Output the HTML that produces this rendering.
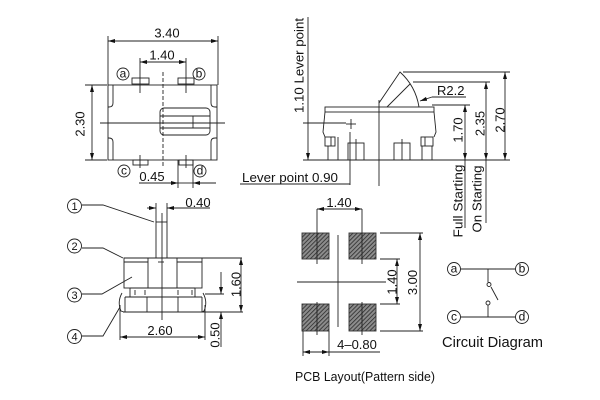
<!DOCTYPE html>
<html><head><meta charset="utf-8"><style>
html,body{margin:0;padding:0;background:#fff;}
svg{display:block;}
text{font-family:"Liberation Sans",Arial,sans-serif;fill:#111;}
</style></head><body>
<svg width="600" height="400" viewBox="0 0 600 400" xmlns="http://www.w3.org/2000/svg">
<defs>
<marker id="ar" viewBox="0 0 7 4" refX="7" refY="2" markerWidth="7" markerHeight="4" markerUnits="userSpaceOnUse" orient="auto-start-reverse"><path d="M0,0 L7,2 L0,4 z" fill="#111"/></marker>
<pattern id="hatch" width="3" height="3" patternUnits="userSpaceOnUse" patternTransform="rotate(45)"><rect width="3" height="3" fill="#8c8c8c"/><line x1="0" y1="0" x2="0" y2="3" stroke="#2a2a2a" stroke-width="1.6"/></pattern>
</defs>
<g fill="none" stroke="#222" stroke-width="0.9">
<!-- ===== TOP VIEW ===== -->
<line x1="108" y1="36" x2="108" y2="85"/>
<line x1="218" y1="36" x2="218" y2="85"/>
<line x1="108" y1="41" x2="218" y2="41" marker-start="url(#ar)" marker-end="url(#ar)"/>
<line x1="140" y1="58" x2="140" y2="93"/>
<line x1="186" y1="58" x2="186" y2="93"/>
<line x1="140" y1="62" x2="186" y2="62" marker-start="url(#ar)" marker-end="url(#ar)"/>
<circle cx="123" cy="74" r="6"/>
<circle cx="199" cy="74" r="6"/>
<circle cx="124" cy="171" r="6"/>
<circle cx="200" cy="171" r="6"/>
<rect x="108" y="85" width="109" height="75"/>
<rect x="132" y="78" width="17" height="6"/>
<rect x="178" y="78" width="16" height="6"/>
<rect x="133" y="160" width="15" height="5"/>
<rect x="179" y="160" width="14" height="5"/>
<line x1="140" y1="155" x2="140" y2="168"/>
<line x1="186" y1="155" x2="186" y2="168"/>
<path d="M113,85 L113,103 Q113,107 109,107 L108,107"/>
<path d="M108,138 L109,138 Q113,138 113,142 L113,160"/>
<path d="M211,85 L211,103 Q211,107 215,107 L217,107"/>
<path d="M217,138 L215,138 Q211,138 211,142 L211,160"/>
<line x1="100" y1="123" x2="225" y2="123"/>
<line x1="163" y1="72" x2="163" y2="168" stroke-dasharray="4,2"/>
<rect x="160" y="108" width="50" height="27" rx="4"/>
<line x1="160" y1="116" x2="210" y2="116"/>
<line x1="160" y1="128" x2="210" y2="128"/>
<line x1="193" y1="116" x2="193" y2="128"/>
<line x1="85" y1="85" x2="107" y2="85"/>
<line x1="85" y1="160" x2="107" y2="160"/>
<line x1="92" y1="85" x2="92" y2="160" marker-start="url(#ar)" marker-end="url(#ar)"/>
<line x1="178" y1="160" x2="178" y2="188"/>
<line x1="193" y1="160" x2="193" y2="188"/>
<line x1="139" y1="183" x2="178" y2="183" marker-end="url(#ar)"/>
<line x1="216" y1="183" x2="193" y2="183" marker-end="url(#ar)"/>
<line x1="178" y1="183" x2="193" y2="183"/>

<!-- ===== SIDE VIEW ===== -->
<line x1="308" y1="17" x2="308" y2="160" marker-end="url(#ar)"/>
<line x1="303" y1="123" x2="346" y2="123"/>
<line x1="346" y1="124" x2="356" y2="124"/>
<line x1="351" y1="119" x2="351" y2="129"/>
<line x1="350" y1="132" x2="350" y2="185"/>
<line x1="240" y1="184" x2="350" y2="184"/>
<rect x="325" y="107" width="109" height="5"/>
<path d="M325,112 L323,132 L325,137"/>
<path d="M434,112 L436,132 L434,137"/>
<rect x="325" y="137" width="10" height="9"/>
<line x1="331" y1="137" x2="331" y2="146"/>
<rect x="421" y="137" width="12" height="9"/>
<line x1="425" y1="137" x2="425" y2="146"/>
<line x1="328" y1="146" x2="328" y2="160"/>
<line x1="338" y1="137" x2="338" y2="160"/>
<line x1="422" y1="146" x2="422" y2="160"/>
<line x1="432" y1="146" x2="432" y2="160"/>
<rect x="348" y="143" width="16" height="17"/>
<line x1="356" y1="139" x2="356" y2="160"/>
<rect x="394" y="143" width="16" height="17"/>
<line x1="402" y1="139" x2="402" y2="160"/>
<line x1="303" y1="160" x2="510" y2="160"/>
<line x1="379" y1="100" x2="379" y2="186"/>
<path d="M379,103 L400,72 A60,60 0 0 1 419,107"/>
<line x1="410" y1="84" x2="387" y2="107"/>
<line x1="403" y1="72" x2="510" y2="72"/>
<line x1="413" y1="82" x2="490" y2="82"/>
<line x1="432" y1="105" x2="470" y2="105"/>
<line x1="432" y1="97" x2="466" y2="97"/>
<line x1="432" y1="97" x2="420" y2="101" marker-end="url(#ar)"/>
<line x1="465" y1="105" x2="465" y2="160" marker-start="url(#ar)" marker-end="url(#ar)"/>
<line x1="465" y1="160" x2="465" y2="228"/>
<line x1="486" y1="82" x2="486" y2="160" marker-start="url(#ar)" marker-end="url(#ar)"/>
<line x1="486" y1="160" x2="486" y2="223"/>
<line x1="505" y1="72" x2="505" y2="160" marker-start="url(#ar)" marker-end="url(#ar)"/>

<!-- ===== FRONT VIEW ===== -->
<circle cx="74.5" cy="206" r="7"/>
<circle cx="74.5" cy="246" r="7"/>
<circle cx="74.5" cy="295" r="7"/>
<circle cx="74.5" cy="336.5" r="7"/>
<polyline points="82,205 103,205 154,222"/>
<polyline points="82,248 103,248 123,258"/>
<polyline points="82,294 102,294 132,277"/>
<polyline points="82,336 103,336 120,307"/>
<rect x="156" y="222" width="11" height="36"/>
<line x1="162" y1="213" x2="162" y2="320"/>
<line x1="156" y1="203" x2="156" y2="222"/>
<line x1="167" y1="203" x2="167" y2="222"/>
<line x1="147" y1="208" x2="156" y2="208" marker-end="url(#ar)"/>
<line x1="210" y1="208" x2="167" y2="208" marker-end="url(#ar)"/>
<line x1="124" y1="258" x2="242" y2="258"/>
<rect x="124" y="258" width="24" height="30"/>
<line x1="124" y1="262" x2="148" y2="262"/>
<rect x="177" y="258" width="25" height="30"/>
<line x1="177" y1="262" x2="202" y2="262"/>
<line x1="158" y1="262" x2="164" y2="262"/>
<line x1="130" y1="288" x2="195" y2="288"/>
<line x1="130" y1="288" x2="130" y2="297"/>
<line x1="195" y1="288" x2="195" y2="297"/>
<line x1="135" y1="290" x2="135" y2="295"/>
<line x1="145" y1="290" x2="145" y2="295"/>
<line x1="178" y1="290" x2="178" y2="295"/>
<line x1="192" y1="290" x2="192" y2="295"/>
<line x1="125" y1="297" x2="202" y2="297"/>
<line x1="147" y1="297" x2="147" y2="312"/>
<line x1="178" y1="297" x2="178" y2="312"/>
<line x1="125" y1="297" x2="125" y2="312"/>
<line x1="202" y1="297" x2="202" y2="312"/>
<line x1="123" y1="312" x2="243" y2="312"/>
<path d="M122,293 Q117,302 121,311 L124,312"/>
<path d="M203,293 Q208,302 204,311 L202,312"/>
<line x1="120" y1="305" x2="120" y2="340"/>
<line x1="205" y1="305" x2="205" y2="340"/>
<line x1="120" y1="337" x2="205" y2="337" marker-start="url(#ar)" marker-end="url(#ar)"/>
<line x1="241" y1="258" x2="241" y2="312" marker-start="url(#ar)" marker-end="url(#ar)"/>
<line x1="205" y1="294" x2="224" y2="294"/>
<line x1="221" y1="272" x2="221" y2="294" marker-end="url(#ar)"/>
<line x1="221" y1="347" x2="221" y2="312" marker-end="url(#ar)"/>

<!-- ===== PCB ===== -->
<rect x="302" y="233" width="27" height="26" fill="url(#hatch)" stroke="#333"/>
<rect x="349" y="233" width="27" height="26" fill="url(#hatch)" stroke="#333"/>
<rect x="302" y="304" width="27" height="27" fill="url(#hatch)" stroke="#333"/>
<rect x="349" y="304" width="27" height="27" fill="url(#hatch)" stroke="#333"/>
<line x1="317" y1="209" x2="317" y2="264"/>
<line x1="362" y1="209" x2="362" y2="264"/>
<line x1="317" y1="302" x2="317" y2="335"/>
<line x1="362" y1="302" x2="362" y2="335"/>
<line x1="317" y1="209" x2="362" y2="209" marker-start="url(#ar)" marker-end="url(#ar)"/>
<line x1="338" y1="235" x2="338" y2="327"/>
<line x1="297" y1="282" x2="386" y2="282"/>
<line x1="380" y1="233" x2="423" y2="233"/>
<line x1="380" y1="331" x2="423" y2="331"/>
<line x1="420" y1="233" x2="420" y2="331" marker-start="url(#ar)" marker-end="url(#ar)"/>
<line x1="380" y1="259" x2="400" y2="259"/>
<line x1="380" y1="304" x2="400" y2="304"/>
<line x1="397" y1="259" x2="397" y2="304" marker-start="url(#ar)" marker-end="url(#ar)"/>
<line x1="303" y1="331" x2="303" y2="356"/>
<line x1="329" y1="331" x2="329" y2="356"/>
<line x1="303" y1="352" x2="329" y2="352" marker-start="url(#ar)" marker-end="url(#ar)"/>
<line x1="329" y1="352" x2="380" y2="352"/>

<!-- ===== CIRCUIT ===== -->
<circle cx="454" cy="269" r="6.5"/>
<circle cx="522" cy="269" r="6.5"/>
<circle cx="454" cy="317" r="6.5"/>
<circle cx="522" cy="317" r="6.5"/>
<line x1="460.5" y1="269" x2="515.5" y2="269"/>
<line x1="460.5" y1="317" x2="515.5" y2="317"/>
<line x1="488" y1="269" x2="488" y2="282"/>
<circle cx="489" cy="284.5" r="2"/>
<circle cx="488" cy="303" r="2"/>
<line x1="488" y1="305" x2="488" y2="317"/>
<line x1="491" y1="287" x2="498" y2="300"/>
</g>

<!-- ===== TEXT ===== -->
<g font-size="13">
<text x="167" y="37.5" text-anchor="middle">3.40</text>
<text x="162" y="59.5" text-anchor="middle">1.40</text>
<text transform="translate(80,124) rotate(-90)" text-anchor="middle" dy="4.6">2.30</text>
<text x="152" y="181" text-anchor="middle">0.45</text>
<text transform="translate(299,65.5) rotate(-90)" text-anchor="middle" dy="4.6" textLength="95" lengthAdjust="spacingAndGlyphs">1.10 Lever point</text>
<text x="242" y="182" textLength="96" lengthAdjust="spacingAndGlyphs">Lever point 0.90</text>
<text x="437" y="95">R2.2</text>
<text transform="translate(458,130) rotate(-90)" text-anchor="middle" dy="4.6">1.70</text>
<text transform="translate(480,123.5) rotate(-90)" text-anchor="middle" dy="4.6">2.35</text>
<text transform="translate(500,120) rotate(-90)" text-anchor="middle" dy="4.6">2.70</text>
<text transform="translate(458,201) rotate(-90)" text-anchor="middle" dy="4.6" textLength="73" lengthAdjust="spacingAndGlyphs">Full Starting</text>
<text transform="translate(477,199) rotate(-90)" text-anchor="middle" dy="4.6" textLength="67" lengthAdjust="spacingAndGlyphs">On Starting</text>
<text x="198" y="207" text-anchor="middle">0.40</text>
<text x="160" y="335" text-anchor="middle">2.60</text>
<text transform="translate(236,284.5) rotate(-90)" text-anchor="middle" dy="4.6">1.60</text>
<text transform="translate(215,335) rotate(-90)" text-anchor="middle" dy="4.6">0.50</text>
<text x="339" y="207" text-anchor="middle">1.40</text>
<text transform="translate(412.5,282.5) rotate(-90)" text-anchor="middle" dy="4.6">3.00</text>
<text transform="translate(392,282) rotate(-90)" text-anchor="middle" dy="4.6">1.40</text>
<text x="357" y="349" text-anchor="middle">4–0.80</text>
</g>
<text x="295" y="381" font-size="12.5" textLength="140" lengthAdjust="spacingAndGlyphs">PCB Layout(Pattern side)</text>
<text x="442" y="347" font-size="14.5" textLength="101" lengthAdjust="spacingAndGlyphs">Circuit Diagram</text>
<g font-size="12" text-anchor="middle">
<text x="123" y="77.5">a</text>
<text x="199" y="77.5">b</text>
<text x="124" y="174.5">c</text>
<text x="200" y="174.5">d</text>
<text x="454" y="272.5">a</text>
<text x="522" y="272.5">b</text>
<text x="454" y="320.5">c</text>
<text x="522" y="320.5">d</text>
</g>
<g font-size="11" text-anchor="middle">
<text x="74.5" y="210">1</text>
<text x="74.5" y="250">2</text>
<text x="74.5" y="299">3</text>
<text x="74.5" y="340.5">4</text>
</g>
</svg>
</body></html>
